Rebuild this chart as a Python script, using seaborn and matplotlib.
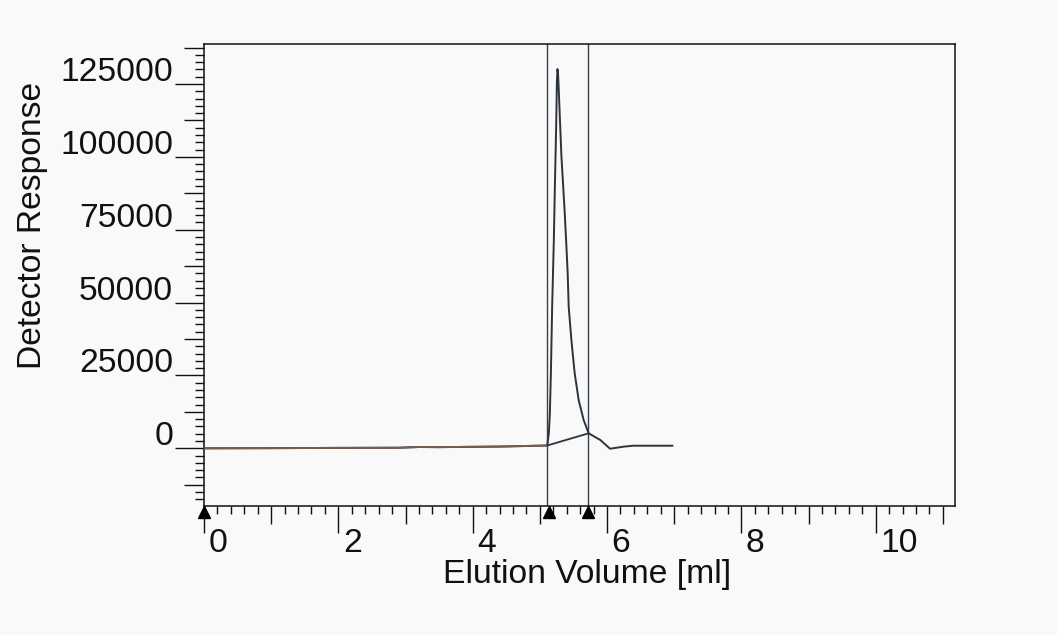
import matplotlib
matplotlib.use('Agg')
import matplotlib.pyplot as plt
import matplotlib.transforms as mtransforms
from matplotlib.ticker import MultipleLocator
import numpy as np
import pandas as pd
import seaborn as sns

# ---- data ----
volume_ml = [0.0, 1.0, 2.0, 2.9, 3.2, 3.5, 4.4, 5.11, 5.134, 5.149, 5.164, 5.183,
             5.208, 5.223, 5.244, 5.253, 5.262, 5.270, 5.28, 5.32, 5.369, 5.394,
             5.414, 5.429, 5.469, 5.518, 5.577, 5.652, 5.726, 5.90, 6.045, 6.24,
             6.39, 6.976]
response = [0, 50, 150, 200, 450, 400, 600, 960, 5250, 12100, 25800, 48600,
            71500, 89300, 112000, 125500, 130100, 129000, 123600, 100600, 81200, 69800,
            60100, 48600, 37200, 25800, 16600, 9700, 5150, 2850, -140, 550,
            890, 890]
peak_bounds_ml = [5.11, 5.72]
integration_baseline_ml = [5.11, 5.726]
integration_baseline_resp = [960, 5150]
marker_ml = [0.0, 5.13, 5.72]

x_major = [0, 1, 2, 3, 4, 5, 6, 7, 8, 9, 10, 11]
x_labels = ['0', '', '2', '', '4', '', '6', '', '8', '', '10', '']
y_major = [-12500, 0, 12500, 25000, 37500, 50000, 62500, 75000, 87500,
           100000, 112500, 125000, 137500]
y_labels = ['', '0', '', '25000', '', '50000', '', '75000', '', '100000', '',
            '125000', '']

BG = '#f9f9f9'
INK = '#111111'
PX = 0.72  # points per pixel at 100 dpi
FS = 24.2

sns.set_theme(style='white')
plt.rcParams['font.family'] = ['Liberation Sans', 'DejaVu Sans']

fig = plt.figure(figsize=(10.57, 6.35), dpi=100, facecolor=BG)
ax = fig.add_axes([0.193, 0.2031, 0.7105, 0.7276])
ax.set_facecolor(BG)

df = pd.DataFrame({'ml': volume_ml, 'resp': response})
sns.lineplot(data=df, x='ml', y='resp', ax=ax, color='#2b333d', lw=1.4,
             estimator=None, sort=False, zorder=3)
pre = df[df['ml'] <= peak_bounds_ml[0]]
sns.lineplot(data=pre, x='ml', y='resp', ax=ax, color='#7a5c50', lw=1.4,
             estimator=None, sort=False, zorder=3)
bl = pd.DataFrame({'ml': integration_baseline_ml, 'resp': integration_baseline_resp})
sns.lineplot(data=bl, x='ml', y='resp', ax=ax, color='#2b333d', lw=1.3,
             estimator=None, sort=False, zorder=3)

for xv in peak_bounds_ml:
    ax.axvline(xv, color='#35404a', lw=1.0, zorder=2)

ax.plot(marker_ml, [-0.012] * len(marker_ml), marker='^', ls='none', color='black',
        ms=8.5, transform=ax.get_xaxis_transform(), clip_on=False, zorder=6)

ax.set_xlim(0, 11.18)
ax.set_ylim(-19800, 138700)

for s in ax.spines.values():
    s.set_visible(True)
    s.set_color(INK)
    s.set_linewidth(1.1)

# ticks
ax.set_xticks(x_major)
ax.set_xticklabels(x_labels)
ax.xaxis.set_minor_locator(MultipleLocator(0.2))
ax.set_yticks(y_major)
ax.set_yticklabels(y_labels)
ax.yaxis.set_minor_locator(MultipleLocator(2500))

ax.tick_params(axis='both', which='both', bottom=True, left=True, top=False, right=False,
               direction='out', colors=INK, width=1.0)
ax.tick_params(axis='x', which='major', length=27 * PX, pad=19 * PX, labelsize=FS)
ax.tick_params(axis='x', which='minor', length=8 * PX)
ax.tick_params(axis='y', which='major', length=29 * PX, pad=2 * PX, labelsize=FS)
ax.tick_params(axis='y', which='minor', length=9 * PX)

for tick, loc in zip(ax.xaxis.get_major_ticks(), x_major):
    if loc % 2 == 1:
        tick.tick1line.set_markersize(18 * PX)
for tick, loc in zip(ax.yaxis.get_major_ticks(), y_major):
    if loc % 25000 != 0:
        tick.tick1line.set_markersize(20 * PX)

xoff = mtransforms.ScaledTranslation(4.5 / 100, 0, fig.dpi_scale_trans)
for lab in ax.get_xticklabels():
    lab.set_va('baseline')
    lab.set_ha('left')
    lab.set_transform(lab.get_transform() + xoff)
yoff = mtransforms.ScaledTranslation(0, 3 / 100, fig.dpi_scale_trans)
for lab in ax.get_yticklabels():
    lab.set_va('baseline')
    lab.set_transform(lab.get_transform() + yoff)

ax.set_xlabel('Elution Volume [ml]', fontsize=FS, color=INK)
ax.xaxis.set_label_coords(0.5107, -0.1147)
ax.set_ylabel('Detector Response', fontsize=FS, color=INK)
ax.yaxis.set_label_coords(-0.2077, 0.608)

fig.savefig('out.png', dpi=100, facecolor=BG)
